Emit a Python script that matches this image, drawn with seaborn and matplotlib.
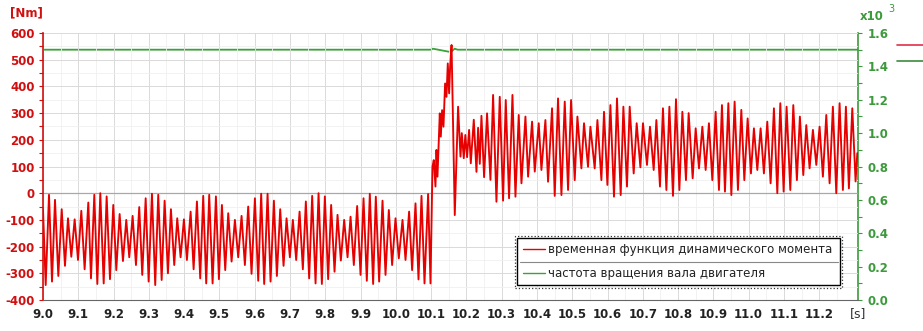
import numpy as np
import pandas as pd
import seaborn as sns
import matplotlib
matplotlib.use("Agg")
import matplotlib.pyplot as plt
from matplotlib.lines import Line2D
from matplotlib.patches import Rectangle

# torque extrema [s], [Nm]
t_torque = [
    9.0000, 9.0076, 9.0170, 9.0255, 9.0340, 9.0434, 9.0530, 9.0623, 9.0708, 9.0802,
    9.0897, 9.0992, 9.1086, 9.1180, 9.1284, 9.1360, 9.1454, 9.1540, 9.1624, 9.1720,
    9.1804, 9.1898, 9.1992, 9.2077, 9.2172, 9.2266, 9.2360, 9.2445, 9.2540, 9.2635,
    9.2728, 9.2813, 9.2910, 9.2994, 9.3088, 9.3181, 9.3266, 9.3363, 9.3447, 9.3541,
    9.3626, 9.3720, 9.3805, 9.3900, 9.3994, 9.4079, 9.4184, 9.4269, 9.4363, 9.4456,
    9.4541, 9.4626, 9.4711, 9.4807, 9.4901, 9.4986, 9.5071, 9.5165, 9.5250, 9.5345,
    9.5439, 9.5533, 9.5628, 9.5722, 9.5816, 9.5911, 9.6006, 9.6100, 9.6184, 9.6269,
    9.6365, 9.6450, 9.6544, 9.6629, 9.6723, 9.6818, 9.6903, 9.6997, 9.7082, 9.7176,
    9.7272, 9.7365, 9.7450, 9.7544, 9.7629, 9.7725, 9.7810, 9.7904, 9.7989, 9.8082,
    9.8167, 9.8263, 9.8348, 9.8442, 9.8536, 9.8632, 9.8717, 9.8810, 9.8904, 9.9000,
    9.9085, 9.9178, 9.9263, 9.9357, 9.9433, 9.9527, 9.9623, 9.9708, 9.9802, 9.9895,
    9.9991, 10.0085, 10.0190, 10.0275, 10.0377, 10.0462, 10.0558, 10.0643, 10.0728, 10.0813,
    10.0915, 10.0983,
    10.1039, 10.1076, 10.1124, 10.1152, 10.1181, 10.1246, 10.1275, 10.1312, 10.1351, 10.1397,
    10.1436, 10.1473, 10.1511, 10.1540, 10.1580, 10.1626, 10.1671, 10.1765, 10.1833, 10.1870,
    10.1926, 10.1970, 10.2020, 10.2077, 10.2125, 10.2210, 10.2286, 10.2332, 10.2380, 10.2427,
    10.2502, 10.2586, 10.2682, 10.2757, 10.2852, 10.2946, 10.3040, 10.3116, 10.3210, 10.3306,
    10.3391, 10.3484, 10.3561, 10.3674, 10.3749,
    10.3862, 10.3938, 10.4051, 10.4127, 10.4240, 10.4315, 10.4428, 10.4504, 10.4598, 10.4694,
    10.4788, 10.4882, 10.4967, 10.5071, 10.5147, 10.5260, 10.5334, 10.5448, 10.5515, 10.5637,
    10.5714, 10.5827, 10.5901, 10.5997, 10.6082, 10.6184, 10.6269, 10.6374, 10.6450, 10.6552,
    10.6629, 10.6742, 10.6827, 10.6932, 10.7006, 10.7119, 10.7204, 10.7309, 10.7385, 10.7487,
    10.7572, 10.7669, 10.7754, 10.7856, 10.7941, 10.8037, 10.8122, 10.8224, 10.8300, 10.8414,
    10.8499, 10.8593, 10.8688, 10.8782, 10.8875, 10.8971, 10.9065, 10.9159, 10.9244, 10.9329,
    10.9425, 10.9510, 10.9603, 10.9697, 10.9793, 10.9878, 10.9972, 11.0065, 11.0150, 11.0246,
    11.0340, 11.0433, 11.0529, 11.0623, 11.0717, 11.0813, 11.0898, 11.0992, 11.1076, 11.1181,
    11.1266, 11.1368, 11.1453, 11.1549, 11.1634, 11.1728, 11.1822, 11.1918, 11.2011, 11.2105,
    11.2201, 11.2295, 11.2388, 11.2484, 11.2578, 11.2672, 11.2757, 11.2842, 11.2938, 11.3031,
    11.3080,
]
torque = [
    -60, -344, -6, -331, -25, -310, -60, -272, -94, -238,
    -98, -250, -66, -285, -35, -319, -6, -340, 0, -338,
    -12, -322, -44, -288, -78, -254, -100, -240, -85, -269,
    -52, -306, -19, -331, -2, -344, -6, -325, -28, -300,
    -60, -269, -94, -240, -98, -250, -69, -285, -31, -319,
    -10, -338, -6, -338, -12, -322, -44, -288, -75, -256,
    -100, -240, -85, -269, -50, -302, -19, -328, -2, -340,
    -2, -331, -28, -310, -60, -272, -94, -240, -100, -250,
    -69, -285, -31, -319, -10, -338, 0, -340, -12, -322,
    -44, -294, -81, -252, -100, -240, -88, -269, -48, -306,
    -19, -328, -2, -340, -13, -331, -28, -306, -63, -269,
    -94, -244, -100, -250, -69, -288, -38, -323, -10, -338,
    -3, -338,
    99, 124, 25, 162, 62, 299, 212, 311, 249, 411,
    361, 486, 374, 474, 555, 237, -82, 324, 137, 225,
    131, 218, 135, 237, 112, 275, 80, 245, 110, 290,
    60, 299, 50, 368, -32, 361, -28, 349, -19, 368,
    -13, 293, 37, 287, 62,
    268, 81, 262, 87, 274, 43, 318, -10, 355, -7,
    343, 12, 349, 49, 287, 93, 262, 99, 249, 93,
    274, 49, 305, 31, 330, -13, 355, -7, 324, 25,
    324, 74, 262, 97, 262, 106, 249, 87, 274, 25,
    318, 12, 324, -10, 352, 12, 305, 49, 300, 56,
    243, 93, 249, 87, 262, 49, 305, 12, 330, 6,
    337, -7, 343, 12, 312, 49, 280, 74, 243, 87,
    243, 74, 268, 37, 318, 0, 337, 6, 324, 12,
    330, 49, 287, 68, 255, 93, 237, 106, 249, 62,
    293, 37, 324, 0, 337, 12, 324, 18, 318, 44,
    150,
]

# motor shaft speed [rpm]
t_speed = [9.0, 10.100, 10.105, 10.150, 10.158, 10.167, 10.175, 11.31]
speed = [1500, 1500, 1506, 1488, 1490, 1506, 1500, 1500]

x_ticks = [9.0, 9.1, 9.2, 9.3, 9.4, 9.5, 9.6, 9.7, 9.8, 9.9, 10.0, 10.1,
           10.2, 10.3, 10.4, 10.5, 10.6, 10.7, 10.8, 10.9, 11.0, 11.1, 11.2]
y_left_ticks = [-400, -300, -200, -100, 0, 100, 200, 300, 400, 500, 600]
y_right_ticks = [0, 200, 400, 600, 800, 1000, 1200, 1400, 1600]

legend_labels = ["временная функция динамического момента",
                 "частота вращения вала двигателя"]

RED = "#e60000"
AXRED = "#d01010"
GREEN = "#3aa23a"
AXGREEN = "#3c9a3c"

sns.set_style("white")
plt.rcParams["font.family"] = ["DejaVu Sans"]

fig = plt.figure(figsize=(9.23, 3.31), dpi=100)
ax = fig.add_axes([43 / 923, 1 - 300 / 331, (858 - 43) / 923, (300 - 33) / 331])
ax2 = ax.twinx()

df_m = pd.DataFrame({"t": t_torque, "M": torque})
df_n = pd.DataFrame({"t": t_speed, "n": speed})

sns.lineplot(data=df_n, x="t", y="n", ax=ax2, color=GREEN, lw=1.3,
             estimator=None, sort=False, legend=False)
sns.lineplot(data=df_m, x="t", y="M", ax=ax, color=RED, lw=1.35,
             estimator=None, sort=False, legend=False)

# torque axis on top of speed axis
ax.set_zorder(ax2.get_zorder() + 1)
ax.patch.set_visible(False)

ax.set_xlim(9.0, 11.31)
ax.set_ylim(-400, 600)
ax2.set_ylim(0, 1600)

ax.set_xticks(x_ticks, labels=[f"{v:.1f}" for v in x_ticks],
              fontweight="bold", fontsize=8.5, color="#222222")
ax.set_xticks(np.arange(9.05, 11.3, 0.1), minor=True)
ax.set_yticks(y_left_ticks, labels=[str(v) for v in y_left_ticks],
              fontweight="bold", fontsize=8.5, color=AXRED)
ax.set_yticks(np.arange(-350, 600, 100), minor=True)
ax2.set_yticks(y_right_ticks, labels=[f"{v / 1000:.1f}" for v in y_right_ticks],
               fontweight="bold", fontsize=8.5, color=AXGREEN)
ax2.set_yticks(np.arange(100, 1600, 200), minor=True)

ax.set_xlabel("")
ax.set_ylabel("")
ax2.set_ylabel("")

ax.grid(which="major", color="#dadada", lw=0.7)
ax.grid(which="minor", color="#f0f0f0", lw=0.6)
ax.set_axisbelow(True)
ax.axhline(0, color="#a8a8a8", lw=0.9, zorder=1.5)

for a in (ax, ax2):
    a.spines["top"].set_visible(False)
ax.spines["right"].set_visible(False)
ax2.spines["left"].set_visible(False)
ax2.spines["bottom"].set_visible(False)
ax.spines["left"].set_color(AXRED)
ax.spines["left"].set_linewidth(1.2)
ax.spines["bottom"].set_color("#666666")
ax2.spines["right"].set_color(AXGREEN)
ax2.spines["right"].set_linewidth(1.2)

ax.tick_params(axis="x", which="both", direction="out", length=3, width=0.8,
               color="#444444", pad=3)
ax.tick_params(axis="y", which="both", direction="out", length=3, width=0.8,
               color=AXRED, pad=3)
ax2.tick_params(axis="y", which="both", direction="out", length=3, width=0.8,
                color=AXGREEN, pad=4)

ax.annotate("[s]", xy=(1.0, 0), xycoords="axes fraction", xytext=(0, -10),
            textcoords="offset points", ha="center", va="center",
            fontsize=9, color="#333333")
fig.text(26 / 923, 1 - 13 / 331, "[Nm]", ha="center", va="center",
         color=AXRED, fontweight="bold", fontsize=8.5)
fig.text(872 / 923, 1 - 17 / 331, "x10", ha="center", va="center",
         color=AXGREEN, fontweight="bold", fontsize=8.5)
fig.text(891 / 923, 1 - 9 / 331, "3", ha="center", va="center",
         color=AXGREEN, fontsize=7)

# cut-off legend at the right edge
fig.add_artist(Line2D([897 / 923, 1.0], [1 - 45 / 331] * 2, color="#e0304a", lw=1.2))
fig.add_artist(Line2D([897 / 923, 1.0], [1 - 61 / 331] * 2, color="#3c8c3c", lw=1.2))

handles = [Line2D([], [], color=RED, lw=1.0), Line2D([], [], color=GREEN, lw=1.0)]
leg = ax.legend(handles, legend_labels, loc="upper left",
                bbox_to_anchor=(0.582, 0.05, 0.396, 0.1833), mode="expand",
                fontsize=8.5, handlelength=1.9, handletextpad=0.3,
                labelspacing=0.95, borderpad=0.44, borderaxespad=0,
                fancybox=False, edgecolor="black", framealpha=1)
leg.get_frame().set_linewidth(1.0)
for txt in leg.get_texts():
    txt.set_color("#222222")

ax.add_line(Line2D([0.585, 0.975], [(300 - 262.3) / 267] * 2, transform=ax.transAxes,
                   color="#888888", lw=0.8, zorder=6))
ax.add_patch(Rectangle(((515 - 43) / 815, (300 - 288.3) / 267), (842.3 - 515) / 815,
                       (288.3 - 235.7) / 267, transform=ax.transAxes, fill=False,
                       ls=":", lw=0.9, ec="#333333", zorder=6, clip_on=False))

fig.savefig("out.png", dpi=100)
